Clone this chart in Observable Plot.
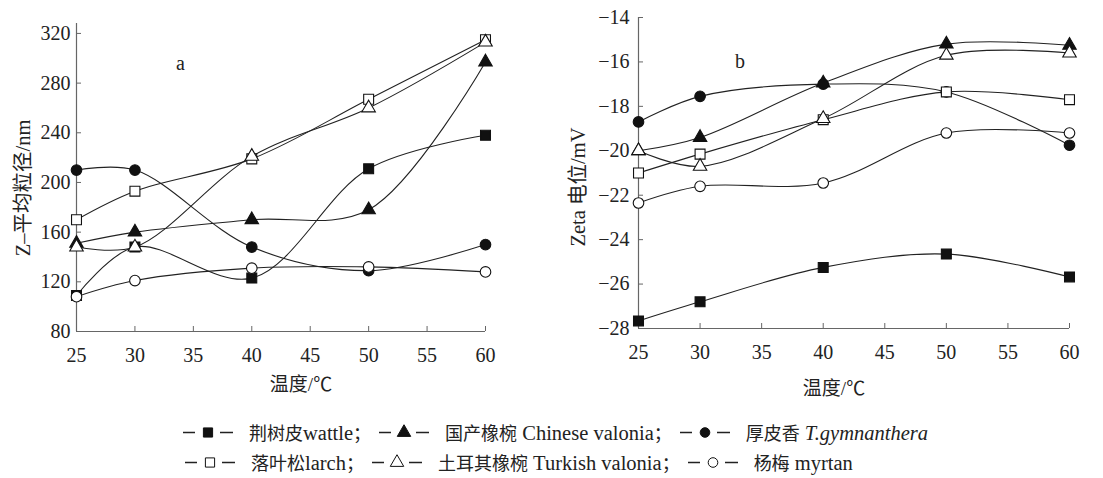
<!DOCTYPE html>
<html>
<head>
<meta charset="utf-8">
<script src="https://cdn.jsdelivr.net/npm/d3@7"></script>
<script src="https://cdn.jsdelivr.net/npm/@observablehq/plot@0.6"></script>
<style>
  html, body { margin: 0; padding: 0; background: #fff; }
  #root { position: relative; width: 1103px; height: 478px; overflow: hidden; background: #fff;
          font-family: "Liberation Serif", "Noto Sans CJK SC", serif; color: #222; }
  #root svg text { font-family: "Liberation Serif", serif; }
  .abs { position: absolute; white-space: nowrap; }
  .cjk { font-family: "Liberation Serif", "Noto Sans CJK SC", serif; }
  .legend-row { position: absolute; left: 183px; display: flex; align-items: center; font-size: 20.5px; line-height: 24px; white-space: nowrap; transform: translateY(-50%); }
  .legend-row svg { margin-right: 15px; }
  .legend-row .item { display: flex; align-items: center; }
  .legend-row .cn { font-family: "Noto Sans CJK SC", sans-serif; font-size: 18px; }
  .legend-row .semi { font-family: "Noto Sans CJK SC", sans-serif; font-size: 18px; margin-right: 8px; }
</style>
</head>
<body>
<div id="root">
  <div id="plotA" class="abs" style="left:0;top:0"></div>
  <div id="plotB" class="abs" style="left:560px;top:0"></div>
</div>
<script>
// ---- data ----
const temps = [25, 30, 40, 50, 60];
const xTicks = [25, 30, 35, 40, 45, 50, 55, 60];
const yTicksA = [80, 120, 160, 200, 240, 280, 320];
const yTicksB = [-28, -26, -24, -22, -20, -18, -16, -14];

const seriesKeys = ["wattle", "chinese", "gym", "larch", "turkish", "myrtan"];
const seriesCN = ["荆树皮", "国产橡椀", "厚皮香", "落叶松", "土耳其橡椀", "杨梅"];
const seriesEN = ["wattle", "Chinese valonia", "T.gymnanthera", "larch", "Turkish valonia", "myrtan"];

// panel a: Z-average particle size (nm)
const sizeWattle  = [109, 148, 123, 211, 238];
const sizeChinese = [151, 160, 170, 178, 297];
const sizeGym     = [210, 210, 148, 129, 150];
const sizeLarch   = [170, 193, 219, 267, 315];
const sizeTurkish = [148, 148, 221, 260, 313];
const sizeMyrtan  = [108, 121, 131, 132, 128];

// panel b: Zeta potential (mV)
const zetaWattle  = [-27.66, -26.8, -25.25, -24.65, -25.68];
const zetaChinese = [-20.0, -19.4, -16.95, -15.2, -15.25];
const zetaGym     = [-18.7, -17.55, -17.0, -17.35, -19.75];
const zetaLarch   = [-21.0, -20.15, -18.6, -17.35, -17.7];
const zetaTurkish = [-20.0, -20.7, -18.55, -15.7, -15.6];
const zetaMyrtan  = [-22.35, -21.6, -21.45, -19.2, -19.2];

// ---- styles per series ----
const symbolOf = {wattle: "square", chinese: "triangle", gym: "circle", larch: "square", turkish: "triangle", myrtan: "circle"};
const fillOf = {wattle: "#111", chinese: "#111", gym: "#111", larch: "#fff", turkish: "#fff", myrtan: "#fff"};
const rOf = {square: 5.6, triangle: 5.0, circle: 5.3};

function table(arrays) {
  const rows = [];
  seriesKeys.forEach((k, i) => temps.forEach((t, j) => rows.push({series: k, t, v: arrays[i][j]})));
  return rows;
}
const dataA = table([sizeWattle, sizeChinese, sizeGym, sizeLarch, sizeTurkish, sizeMyrtan]);
const dataB = table([zetaWattle, zetaChinese, zetaGym, zetaLarch, zetaTurkish, zetaMyrtan]);

function seriesMarks(data) {
  const marks = [];
  for (const k of seriesKeys) {
    const d = data.filter(r => r.series === k);
    marks.push(Plot.line(d, {x: "t", y: "v", curve: "catmull-rom", stroke: "#222", strokeWidth: 1.1}));
  }
  for (const k of seriesKeys) {
    const d = data.filter(r => r.series === k);
    const s = symbolOf[k];
    marks.push(Plot.dot(d, {x: "t", y: "v", symbol: () => s, r: rOf[s], fill: fillOf[k], stroke: "#111", strokeWidth: 1.1}));
  }
  return marks;
}

function panel(data, opts) {
  return Plot.plot({
    width: opts.width, height: 400,
    marginLeft: opts.ml, marginRight: opts.mr, marginTop: opts.mt, marginBottom: 400 - opts.bottom,
    x: {domain: [25, 60]},
    y: {domain: opts.ydomain},
    symbol: {type: "identity"},
    style: {fontFamily: "'Liberation Serif', serif", fontSize: "20px", color: "#222", background: "transparent", overflow: "visible"},
    marks: [
      Plot.ruleY([opts.ydomain[0]], {stroke: "#666", strokeWidth: 1.2}),
      Plot.ruleX([25], {stroke: "#666", strokeWidth: 1.2}),
      Plot.axisX({ticks: xTicks, tickSize: -5, tickPadding: 21, label: null, stroke: "#666", fill: "#222"}),
      Plot.axisY({ticks: opts.yticks, tickSize: -5, tickPadding: opts.ypad, label: null, stroke: "#666", fill: "#222"}),
      ...seriesMarks(data)
    ]
  });
}

document.getElementById("plotA").appendChild(panel(dataA, {width: 560, ml: 76, mr: 75, mt: 23, bottom: 331, ydomain: [80, 328], yticks: yTicksA, ypad: 11}));
document.getElementById("plotB").appendChild(panel(dataB, {width: 543, ml: 78, mr: 34, mt: 17, bottom: 328, ydomain: [-28, -14], yticks: yTicksB, ypad: 14}));

// ---- text annotations ----
const root = document.getElementById("root");
function addText(html, css) {
  const el = document.createElement("div");
  el.className = "abs cjk";
  el.innerHTML = html;
  Object.assign(el.style, css);
  root.appendChild(el);
  return el;
}
addText("a", {left: "176px", top: "52px", fontSize: "20px"});
addText("b", {left: "735px", top: "50px", fontSize: "20px"});
addText("温度/℃", {left: "301px", top: "382px", fontSize: "19px", transform: "translate(-50%,-50%)"});
addText("温度/℃", {left: "834px", top: "386px", fontSize: "19px", transform: "translate(-50%,-50%)"});
addText("Z–平均粒径/nm", {left: "21px", top: "188px", fontSize: "20.5px", transform: "translate(-50%,-50%) rotate(-90deg)"});
addText("Zeta 电位/mV", {left: "576px", top: "187px", fontSize: "20.5px", transform: "translate(-50%,-50%) rotate(-90deg)"});

// ---- legend ----
function swatch(k) {
  const s = symbolOf[k];
  const svg = d3.create("svg").attr("width", 51).attr("height", 20);
  svg.append("line").attr("x1", 0).attr("x2", 12).attr("y1", 10).attr("y2", 10).attr("stroke", "#222").attr("stroke-width", 1.6);
  svg.append("line").attr("x1", 37).attr("x2", 50).attr("y1", 10).attr("y2", 10).attr("stroke", "#222").attr("stroke-width", 1.6);
  const sym = s === "square" ? d3.symbolSquare : s === "triangle" ? d3.symbolTriangle : d3.symbolCircle;
  const r = s === "circle" ? 4.8 : s === "square" ? 5.2 : 5.0;
  svg.append("path").attr("d", d3.symbol(sym, Math.PI * r * r)()).attr("transform", "translate(25,10)")
    .attr("fill", fillOf[k]).attr("stroke", "#111").attr("stroke-width", 1);
  return svg.node();
}
function legendRow(keys, centerY, left) {
  const row = document.createElement("div");
  row.className = "legend-row";
  row.style.top = centerY + "px";
  row.style.left = left + "px";
  keys.forEach((k, idx) => {
    const i = seriesKeys.indexOf(k);
    const item = document.createElement("span");
    item.className = "item";
    item.appendChild(swatch(k));
    const t = document.createElement("span");
    const en = seriesEN[i];
    const sep = (k === "wattle" || k === "larch") ? "" : "&nbsp;";
    const enHtml = k === "gym" ? `<i>${en}</i>` : en;
    t.innerHTML = `<span class="cn">${seriesCN[i]}</span>${sep}${enHtml}` + (idx < keys.length - 1 ? `<span class="semi">；</span>` : "");
    item.appendChild(t);
    row.appendChild(item);
  });
  root.appendChild(row);
}
legendRow(["wattle", "chinese", "gym"], 432, 183);
legendRow(["larch", "turkish", "myrtan"], 462, 185);
</script>
</body>
</html>
